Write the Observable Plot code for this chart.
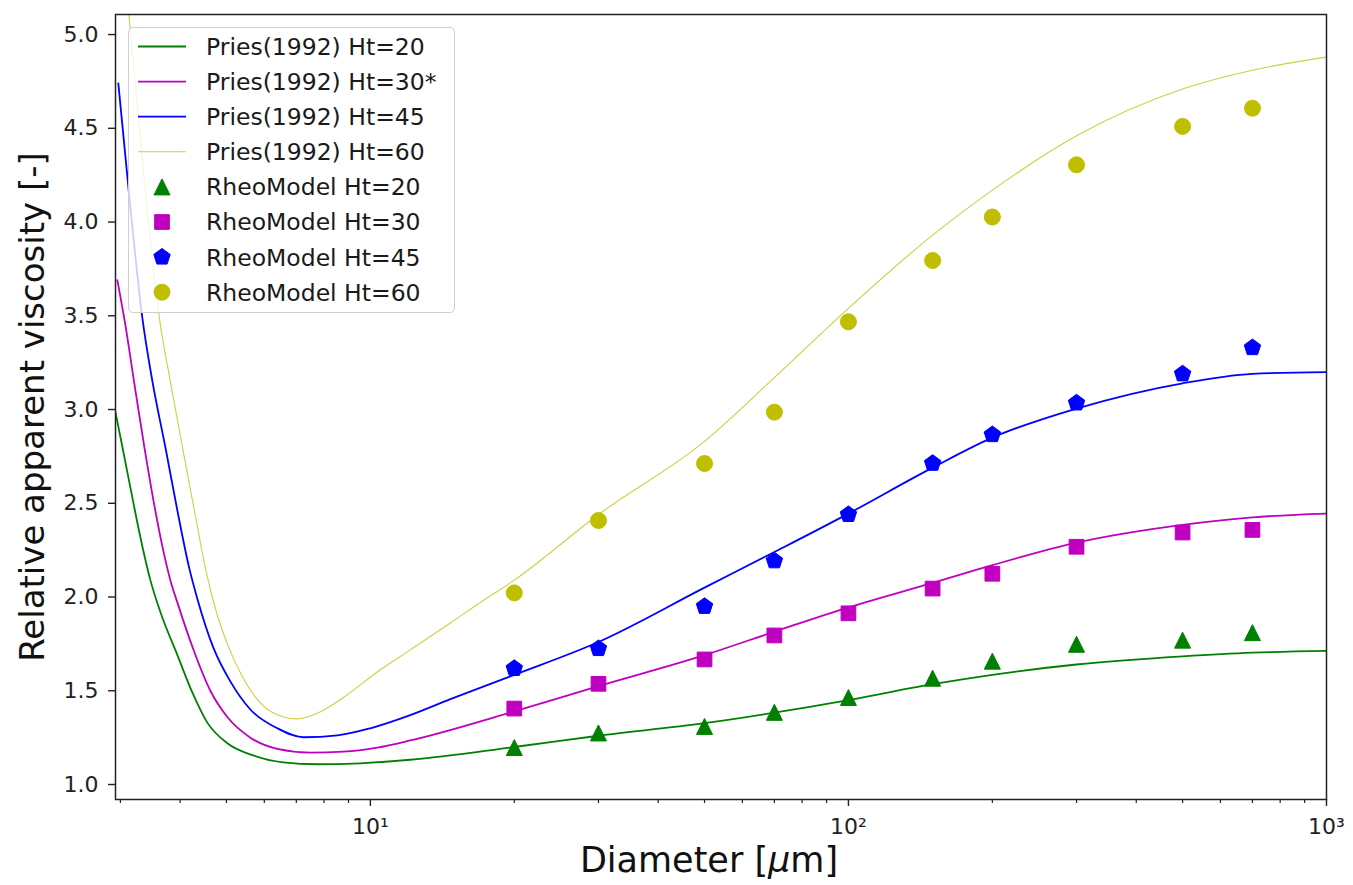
<!DOCTYPE html>
<html><head><meta charset="utf-8">
<script src="https://cdn.jsdelivr.net/npm/d3@7"></script>
<script src="https://cdn.jsdelivr.net/npm/@observablehq/plot@0.6"></script>
<style>
html,body{margin:0;padding:0;background:#fff;}
#wrap{position:relative;width:1353px;height:885px;font-family:"DejaVu Sans",sans-serif;}
#legend{position:absolute;left:128px;top:27px;width:327px;height:286px;box-sizing:border-box;border:1px solid #cfcfcf;border-radius:5px;background:rgba(255,255,255,0.8);}
#legend svg{position:absolute;left:0;top:0;}
</style></head><body><div id="wrap"><div id="legend"></div></div>
<script>
// ---- data: [diameter µm, relative viscosity] ----
const pries20 = [[2.927,2.99],[3.029,2.80],[3.178,2.53],[3.302,2.32],[3.466,2.09],[3.637,1.92],[3.948,1.69],[4.244,1.49],[4.560,1.33],[5.021,1.22],[5.691,1.155],[6.577,1.118],[7.745,1.108],[9.53,1.113],[12.12,1.132],[20,1.20],[30,1.26],[50,1.327],[70,1.383],[100,1.45],[150,1.535],[200,1.585],[300,1.64],[500,1.683],[700,1.703],[1000,1.713]];
const pries30 = [[2.956,3.69],[3.073,3.45],[3.208,3.14],[3.367,2.80],[3.550,2.46],[3.672,2.27],[3.816,2.09],[3.948,1.97],[4.264,1.72],[4.627,1.50],[5.021,1.36],[5.610,1.25],[6.389,1.19],[7.491,1.17],[8.780,1.175],[10.34,1.197],[12.12,1.235],[20,1.39],[30,1.525],[50,1.69],[70,1.815],[100,1.945],[150,2.075],[200,2.17],[300,2.29],[500,2.385],[700,2.425],[1000,2.445]];
const pries45 = [[2.970,4.74],[3.147,4.08],[3.334,3.49],[3.500,3.15],[3.725,2.80],[3.948,2.46],[4.183,2.15],[4.347,1.99],[4.694,1.73],[5.094,1.55],[5.610,1.40],[6.389,1.30],[7.242,1.252],[8.531,1.262],[10,1.30],[12.12,1.37],[14.7,1.455],[20,1.585],[30,1.76],[50,2.05],[70,2.24],[100,2.445],[150,2.69],[200,2.85],[300,3.005],[500,3.14],[700,3.19],[1000,3.20]];
const pries60 = [[2.970,5.70],[3.224,4.74],[3.416,4.05],[3.619,3.49],[3.816,3.15],[4.044,2.80],[4.285,2.46],[4.539,2.13],[4.763,1.92],[5.021,1.75],[5.424,1.565],[5.887,1.435],[6.577,1.36],[7.036,1.35],[7.745,1.38],[8.780,1.464],[10.34,1.60],[12.12,1.718],[14.7,1.861],[17,1.972],[20,2.09],[30,2.44],[50,2.83],[70,3.17],[100,3.54],[150,3.93],[200,4.17],[300,4.46],[500,4.71],[700,4.81],[1000,4.88]];

const diameters = [20,30,50,70,100,150,200,300,500,700];
const rheo20 = [1.197,1.275,1.31,1.385,1.464,1.567,1.658,1.748,1.77,1.81];
const rheo30 = [1.405,1.537,1.667,1.795,1.913,2.045,2.124,2.268,2.344,2.358];
const rheo45 = [1.619,1.725,1.95,2.193,2.44,2.713,2.866,3.035,3.19,3.33];
const rheo60 = [2.022,2.408,2.712,2.986,3.468,3.795,4.027,4.305,4.51,4.607];

const lineLabels = ["Pries(1992) Ht=20","Pries(1992) Ht=30*","Pries(1992) Ht=45","Pries(1992) Ht=60"];
const dotLabels = ["RheoModel Ht=20","RheoModel Ht=30","RheoModel Ht=45","RheoModel Ht=60"];

const yTicks = [1.0,1.5,2.0,2.5,3.0,3.5,4.0,4.5,5.0];
const xMajor = [10,100,1000];
const xMajorLabels = ["10\u00b9","10\u00b2","10\u00b3"];
const xMinor = [3,4,5,6,7,8,9,20,30,40,50,60,70,80,90,200,300,400,500,600,700,800,900];

const xLabel = "Diameter [\u03bcm]";
const yLabel = "Relative apparent viscosity [-]";

// ---- styling ----
const colors = ["#008000","#bf00bf","#0000ff","#bfbf00"];
const lineWidths = [1.8,1.8,1.8,1.1];
const lineOpacity = [1,1,1,0.75];

// matplotlib-like marker shapes (half size = r)
const R = s => Math.sqrt(s/Math.PI);
const triUp = {draw(c,s){const r=R(s);c.moveTo(0,-r);c.lineTo(r,r);c.lineTo(-r,r);c.closePath();}};
const sq = {draw(c,s){const r=R(s)*0.92;c.moveTo(-r,-r);c.lineTo(r,-r);c.lineTo(r,r);c.lineTo(-r,r);c.closePath();}};
const pent = {draw(c,s){const r=R(s)*1.08;for(let k=0;k<5;k++){const a=-Math.PI/2+k*2*Math.PI/5;const x=r*Math.cos(a),y=r*Math.sin(a);k?c.lineTo(x,y):c.moveTo(x,y);}c.closePath();}};
const circ = {draw(c,s){const r=R(s);c.moveTo(r,0);c.arc(0,0,r,0,2*Math.PI);c.closePath();}};
const symbols = [triUp, sq, pent, circ];
const dotR = 8;

const series = [pries20,pries30,pries45,pries60].map(a => a.map(([d,v]) => ({d, v})));
const rheo = [rheo20,rheo30,rheo45,rheo60].map(vals => diameters.map((d,i) => ({d, v: vals[i]})));

const marks = [];
series.forEach((s,i) => marks.push(Plot.line(s, {x:"d", y:"v", stroke: colors[i], strokeWidth: lineWidths[i], strokeOpacity: lineOpacity[i], curve:"monotone-x", clip:true})));
rheo.forEach((s,i) => marks.push(Plot.dot(s, {x:"d", y:"v", symbol: symbols[i], r: dotR, fill: colors[i], stroke: colors[i], strokeWidth: 1})));

const chart = Plot.plot({
  width: 1353, height: 885,
  marginLeft: 115, marginRight: 27, marginTop: 14, marginBottom: 86,
  style: {fontFamily: "'DejaVu Sans', sans-serif", background: "white", color: "#222", overflow: "visible"},
  x: {type: "log", domain: [2.93, 1000]},
  y: {domain: [0.92, 5.107]},
  marks: [
    ...marks,
    Plot.frame({stroke: "#222", strokeWidth: 1.5}),
    Plot.axisY(yTicks, {tickSize: 7, tickPadding: 10, tickFormat: d => d.toFixed(1), fontSize: 22, label: null, strokeWidth: 1.4}),
    Plot.axisX(xMinor, {tickSize: 4, tickFormat: () => "", label: null, strokeWidth: 1.2}),
    Plot.axisX(xMajor, {tickSize: 7, tickPadding: 12, tickFormat: d => xMajorLabels[xMajor.indexOf(d)], fontSize: 22, label: null, strokeWidth: 1.4}),
    Plot.text([xLabel], {frameAnchor: "bottom", dy: 72, dx: -12, fontSize: 35, fill: "#111", textAnchor: "middle"}),
    Plot.text([yLabel], {frameAnchor: "left", dx: -82, rotate: -90, fontSize: 34, fill: "#111", textAnchor: "middle"})
  ]
});
document.getElementById("wrap").prepend(chart);

// italic mu as in the matplotlib mathtext label
d3.select(chart).selectAll("text").filter(function(){ return this.textContent === xLabel; }).each(function(){
  const t = d3.select(this);
  t.text(null);
  t.append("tspan").text("Diameter [");
  t.append("tspan").attr("font-style", "italic").text("\u03bc");
  t.append("tspan").text("m]");
});

// ---- legend overlay ----
const lg = d3.select("#legend").append("svg").attr("width", 327).attr("height", 286);
const rows = [
  ...lineLabels.map((t,i) => ({t, kind:"line", i})),
  ...dotLabels.map((t,i) => ({t, kind:"dot", i}))
];
rows.forEach((row, k) => {
  const y = 18.5 + 35.1*k;
  if (row.kind === "line") {
    lg.append("line").attr("x1", 9).attr("x2", 57).attr("y1", y).attr("y2", y)
      .attr("stroke", colors[row.i]).attr("stroke-width", lineWidths[row.i]).attr("stroke-opacity", lineOpacity[row.i]);
  } else {
    lg.append("path").attr("transform", `translate(33,${y})`)
      .attr("d", d3.symbol(symbols[row.i], dotR*dotR*Math.PI)())
      .attr("fill", colors[row.i]).attr("stroke", colors[row.i]).attr("stroke-width", 1);
  }
  lg.append("text").attr("x", 77).attr("y", y).attr("dy", "0.36em")
    .attr("font-family", "'DejaVu Sans', sans-serif").attr("font-size", 23.5).attr("fill", "#1a1a1a").text(row.t);
});
</script></body></html>
